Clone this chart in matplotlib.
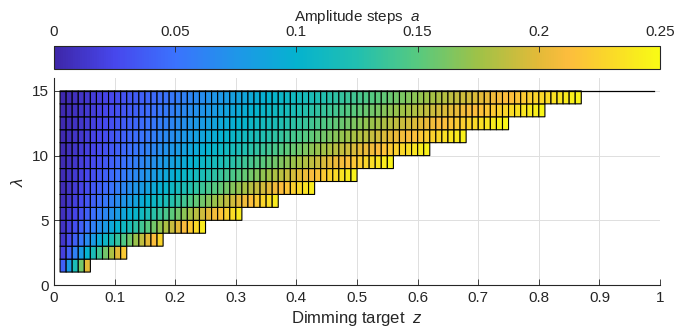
import numpy as np
import matplotlib
matplotlib.use("Agg")
import matplotlib.pyplot as plt
from matplotlib.colors import LinearSegmentedColormap, Normalize

plt.rcParams['font.family'] = ['Liberation Sans', 'DejaVu Sans']
plt.rcParams['mathtext.fontset'] = 'custom'
plt.rcParams['mathtext.it'] = 'Liberation Sans:italic'

# lambda values and how far each row reaches along the dimming target axis
lam = np.arange(1, 16)
z_end = [0.06, 0.12, 0.18, 0.25, 0.31, 0.37, 0.43, 0.50,
         0.56, 0.62, 0.68, 0.75, 0.81, 0.87, 0.99]
z_step = 0.01
a_max = 0.25

z = np.round(np.arange(1, 100) * z_step, 2)

# amplitude step for every (lambda, z) pair, NaN where not reachable
A = np.full((len(lam), len(z)), np.nan)
for i, (l, ze) in enumerate(zip(lam, z_end)):
    ok = z <= ze + 1e-9
    A[i, ok] = 4 * z[ok] / l

# a cell is only drawn when all four corners are valid
corners = np.isnan(A[:-1, :-1]) | np.isnan(A[1:, :-1]) | np.isnan(A[:-1, 1:]) | np.isnan(A[1:, 1:])
C = np.ma.masked_array(A[:-1, :-1], mask=corners)

# parula-like colormap
parula = LinearSegmentedColormap.from_list('parula', [
    (0.00, (0.2422, 0.1504, 0.6603)),
    (0.10, (0.2780, 0.2800, 0.9300)),
    (0.20, (0.2300, 0.4500, 0.9950)),
    (0.30, (0.1200, 0.5900, 0.9100)),
    (0.40, (0.0200, 0.7000, 0.8100)),
    (0.50, (0.1300, 0.7500, 0.6900)),
    (0.60, (0.3400, 0.7900, 0.5000)),
    (0.70, (0.6200, 0.7600, 0.2800)),
    (0.80, (0.8900, 0.7300, 0.2200)),
    (0.85, (0.9900, 0.7400, 0.2400)),
    (0.90, (0.9800, 0.8200, 0.1800)),
    (1.00, (0.9769, 0.9839, 0.0805)),
])
norm = Normalize(vmin=0, vmax=a_max)

dark = (0.15, 0.15, 0.15)
fig = plt.figure(figsize=(6.89, 3.34), dpi=100)
ax = fig.add_axes([0.0784, 0.1467, 0.8796, 0.6198])
cax = fig.add_axes([0.0784, 0.793, 0.8796, 0.069])

mesh = ax.pcolor(z, lam, C, cmap=parula, norm=norm,
                 edgecolors='k', linewidth=0.8, zorder=2)
ax.plot([z[0], z_end[-1]], [lam[-1], lam[-1]], color='k', lw=0.9, zorder=3)

ax.set_xlim(0, 1)
ax.set_ylim(0, 16)
ax.set_xticks(np.arange(0, 1.01, 0.1))
ax.set_xticklabels(['0', '0.1', '0.2', '0.3', '0.4', '0.5', '0.6', '0.7', '0.8', '0.9', '1'])
ax.set_yticks([0, 5, 10, 15])
ax.grid(True, color=(0.87, 0.87, 0.87), lw=0.7, zorder=0)
ax.set_axisbelow(True)
for s in ['top', 'right']:
    ax.spines[s].set_visible(False)
for s in ['left', 'bottom']:
    ax.spines[s].set_color(dark)
    ax.spines[s].set_linewidth(0.8)
ax.tick_params(direction='in', length=4, width=0.6, colors=dark, labelsize=11, pad=4)
ax.set_xlabel('Dimming target  $z$', fontsize=12, color=dark, labelpad=3)
ax.set_ylabel(r'$\lambda$', fontsize=12, color=dark, labelpad=4)

cb = fig.colorbar(mesh, cax=cax, orientation='horizontal')
cb.set_ticks([0, 0.05, 0.1, 0.15, 0.2, 0.25])
cb.set_ticklabels(['0', '0.05', '0.1', '0.15', '0.2', '0.25'])
cax.xaxis.set_ticks_position('top')
cax.xaxis.set_label_position('top')
cax.tick_params(direction='in', length=4, width=0.6, colors=dark, labelsize=11, pad=5)
cb.outline.set_edgecolor(dark)
cb.outline.set_linewidth(0.8)
cb.set_label('Amplitude steps  $a$', fontsize=11, color=dark, labelpad=3)

fig.savefig('out.png', dpi=100)
